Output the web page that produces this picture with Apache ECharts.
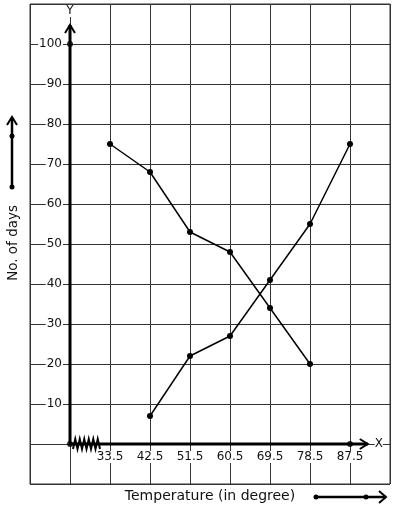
<!DOCTYPE html>
<html>
<head>
<meta charset="utf-8">
<script src="https://cdn.jsdelivr.net/npm/echarts@6/dist/echarts.min.js"></script>
<style>
html,body{margin:0;padding:0;background:#fff;}
#chart{width:394px;height:510px;}
</style>
</head>
<body>
<div id="chart"></div>
<script>
// ---- data ----
const ORIGIN_T = 24.5;          // temperature value at the origin of the drawn axes
const temperatures = [33.5, 42.5, 51.5, 60.5, 69.5, 78.5, 87.5];
const tickLabels = ['33.5', '42.5', '51.5', '60.5', '69.5', '78.5', '87.5'];
const yTickValues = [10, 20, 30, 40, 50, 60, 70, 80, 90, 100];
const fallingT = [33.5, 42.5, 51.5, 60.5, 69.5, 78.5];
const fallingDays = [75, 68, 53, 48, 34, 20];
const risingT = [42.5, 51.5, 60.5, 69.5, 78.5, 87.5];
const risingDays = [7, 22, 27, 41, 55, 75];
const axisDotsT = [24.5, 24.5, 87.5];
const axisDotsDays = [0, 100, 0];
const Y_AXIS_END = 104.75;
const X_AXIS_END = 91.5;

const toX = t => +(t - ORIGIN_T).toFixed(4);
const pairs = (ts, vs) => ts.map((t, i) => [toX(t), vs[i]]);

const FONT = 'DejaVu Sans';
const INK = '#111';

const chart = echarts.init(document.getElementById('chart'), null, {renderer: 'canvas'});

const option = {
  animation: false,
  backgroundColor: '#fff',
  grid: {left: 30, right: 4, top: 4, bottom: 26, show: true, borderColor: '#333', borderWidth: 1, backgroundColor: '#fff'},
  xAxis: {
    type: 'value', min: -9, max: 72, interval: 9,
    position: 'bottom', offset: -40,
    axisLine: {show: false}, axisTick: {show: false},
    splitLine: {show: true, lineStyle: {color: '#333', width: 1}},
    axisLabel: {
      margin: 7, color: INK, fontFamily: FONT, fontSize: 12,
      backgroundColor: '#fff', padding: [0, 0],
      formatter: v => {
        const i = temperatures.findIndex(t => Math.abs(toX(t) - v) < 1e-6);
        return i >= 0 ? tickLabels[i] : '';
      }
    }
  },
  yAxis: {
    type: 'value', min: -10, max: 110, interval: 10,
    position: 'left', offset: -40,
    axisLine: {show: false}, axisTick: {show: false},
    splitLine: {show: true, lineStyle: {color: '#333', width: 1}},
    axisLabel: {
      margin: 7, color: INK, fontFamily: FONT, fontSize: 12,
      backgroundColor: '#fff', padding: [0, 1],
      formatter: v => yTickValues.indexOf(v) >= 0 ? String(v) : ''
    }
  },
  series: [
    {
      type: 'custom',
      z: 3,
      data: [[0, 0]],
      silent: true,
      renderItem: (params, api) => {
        const o = api.coord([0, 0]);
        const yt = api.coord([0, Y_AXIS_END]);
        const xt = api.coord([toX(X_AXIS_END), 0]);
        const zig = [];
        const zx0 = o[0] + 3, zx1 = o[0] + 30, n = 12;
        for (let k = 0; k <= n; k++) {
          zig.push([zx0 + (zx1 - zx0) * k / n, o[1] + (k % 2 === 0 ? 5 : -5)]);
        }
        return {
          type: 'group',
          children: [
            {type: 'line', shape: {x1: o[0], y1: o[1] + 1, x2: yt[0], y2: yt[1]}, style: {stroke: '#000', lineWidth: 3}},
            {type: 'polyline', shape: {points: [[yt[0] - 5, yt[1] + 8], [yt[0], yt[1]], [yt[0] + 5, yt[1] + 8]]}, style: {stroke: '#000', lineWidth: 2, fill: null}},
            {type: 'line', shape: {x1: o[0] - 1, y1: o[1], x2: xt[0], y2: xt[1]}, style: {stroke: '#000', lineWidth: 3}},
            {type: 'polyline', shape: {points: [[xt[0] - 8, xt[1] - 5], [xt[0], xt[1]], [xt[0] - 8, xt[1] + 5]]}, style: {stroke: '#000', lineWidth: 2, fill: null}},
            {type: 'polyline', shape: {points: zig}, style: {stroke: '#000', lineWidth: 2, fill: null}},
            {type: 'text', style: {text: 'Y', x: yt[0], y: yt[1] - 14, align: 'center', verticalAlign: 'middle', fill: INK, font: '12px "DejaVu Sans"', backgroundColor: '#fff'}},
            {type: 'text', style: {text: 'X', x: xt[0] + 11, y: xt[1], align: 'center', verticalAlign: 'middle', fill: INK, font: '12px "DejaVu Sans"', backgroundColor: '#fff'}}
          ]
        };
      }
    },
    {
      type: 'line', z: 4,
      data: pairs(fallingT, fallingDays),
      symbol: 'circle', symbolSize: 6, showSymbol: true,
      lineStyle: {color: '#000', width: 1.5}, itemStyle: {color: '#000'}
    },
    {
      type: 'line', z: 4,
      data: pairs(risingT, risingDays),
      symbol: 'circle', symbolSize: 6, showSymbol: true,
      lineStyle: {color: '#000', width: 1.5}, itemStyle: {color: '#000'}
    },
    {
      type: 'scatter', z: 5,
      data: pairs(axisDotsT, axisDotsDays),
      symbol: 'circle', symbolSize: 6,
      itemStyle: {color: '#000'}
    }
  ],
  graphic: [
    // left: vertical axis title with arrow
    {type: 'text', left: 6, top: 205, rotation: Math.PI / 2, origin: [0, 0],
     style: {text: 'No. of days', fill: INK, font: '13.5px "DejaVu Sans"'}},
    {type: 'line', shape: {x1: 12, y1: 187, x2: 12, y2: 118}, style: {stroke: '#000', lineWidth: 2.5}},
    {type: 'polyline', shape: {points: [[7, 125], [12, 117], [17, 125]]}, style: {stroke: '#000', lineWidth: 2, fill: null}},
    {type: 'circle', shape: {cx: 12, cy: 136, r: 2.5}, style: {fill: '#000'}},
    {type: 'circle', shape: {cx: 12, cy: 187, r: 2.5}, style: {fill: '#000'}},
    // bottom: horizontal axis title with arrow
    {type: 'text', x: 210, y: 496,
     style: {text: 'Temperature (in degree)', fill: INK, font: '14px "DejaVu Sans"', align: 'center', verticalAlign: 'middle'}},
    {type: 'line', shape: {x1: 316, y1: 497, x2: 386, y2: 497}, style: {stroke: '#000', lineWidth: 2.5}},
    {type: 'polyline', shape: {points: [[379, 491], [386, 497], [379, 503]]}, style: {stroke: '#000', lineWidth: 2, fill: null}},
    {type: 'circle', shape: {cx: 316, cy: 497, r: 2.5}, style: {fill: '#000'}},
    {type: 'circle', shape: {cx: 366, cy: 497, r: 2.5}, style: {fill: '#000'}}
  ]
};
chart.setOption(option);
</script>
</body>
</html>
